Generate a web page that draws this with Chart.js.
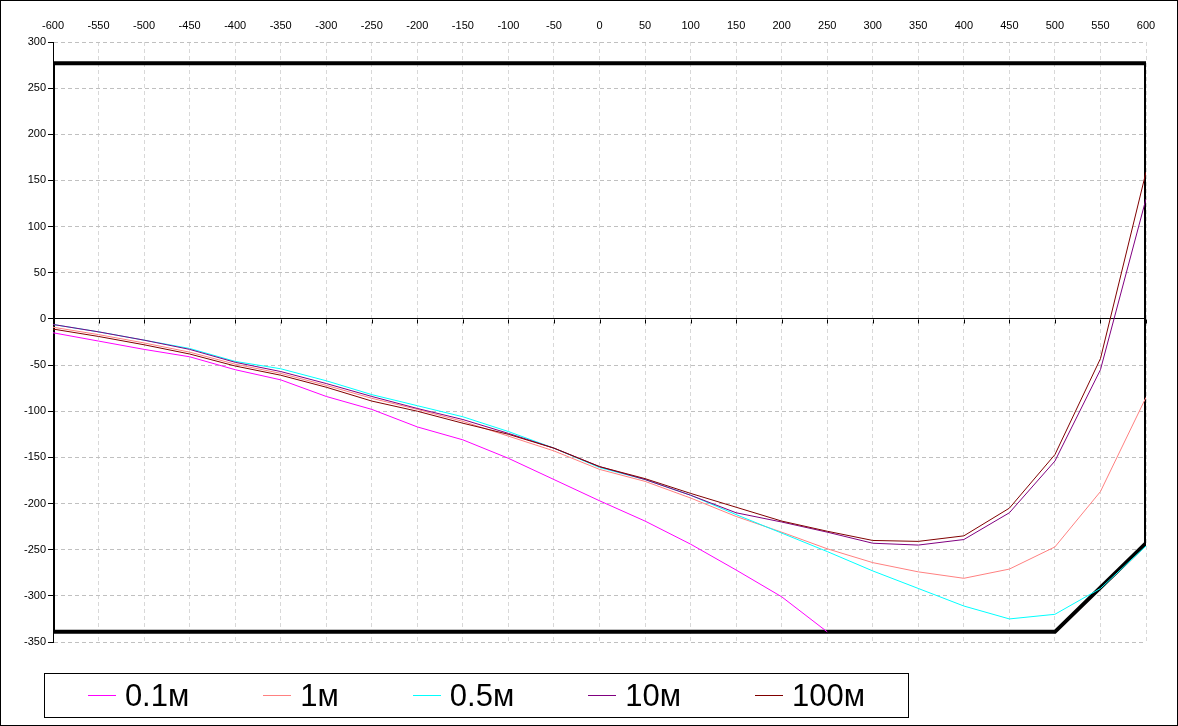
<!DOCTYPE html>
<html>
<head>
<meta charset="utf-8">
<script src="https://cdn.jsdelivr.net/npm/chart.js@4/dist/chart.umd.min.js"></script>
<style>
body { margin: 0; background: #fff; }
#wrap { position: relative; width: 1178px; height: 726px; overflow: hidden; }
#chart { position: absolute; left: 0; top: 0; }
#frame { position: absolute; left: 0; top: 0; width: 1178px; height: 726px; box-sizing: border-box; border: 1px solid #000; pointer-events: none; }
#legend { position: absolute; left: 44px; top: 673px; width: 865px; height: 45px; box-sizing: border-box; border: 1px solid #000;
  display: flex; justify-content: center; align-items: center; gap: 74px; font-family: "Liberation Sans", Arial, sans-serif; font-size: 31px; color: #000; }
.item { display: flex; align-items: center; white-space: nowrap; }
.swatch { display: inline-block; width: 28px; height: 1px; margin-right: 9px; }
</style>
</head>
<body>
<div id="wrap">
  <canvas id="chart" width="1178" height="726"></canvas>
  <div id="legend"></div>
  <div id="frame"></div>
</div>
<script>
// x positions, every 50
var xValues = [-600,-550,-500,-450,-400,-350,-300,-250,-200,-150,-100,-50,0,50,100,150,200,250,300,350,400,450,500,550,600];

var seriesLabels = ['0.1м', '1м', '0.5м', '10м', '100м'];
var seriesColors = ['#FF00FF', '#FF8080', '#00FFFF', '#800080', '#800000'];

var s01  = [-15,-24,-33,-41,-55,-66,-84,-98,-117,-131,-151,-174,-197,-219,-244,-272,-301,-339,null,null,null,null,null,null,null];
var s1   = [-9,-17,-26,-36,-49,-59,-72,-86,-98,-111,-127,-143,-163,-176,-194,-214,-231,-249,-264,-274,-281,-271,-247,-187,-85];
var s05  = [-6,-14,-23,-32,-46,-54,-67,-82,-94,-106,-122,-140,-161,-174,-191,-212,-232,-252,-273,-292,-311,-325,-320,-292,-246];
var s10  = [-6,-14,-23,-33,-47,-57,-70,-84,-97,-109,-124,-140,-160,-174,-191,-210,-220,-231,-243,-245,-239,-210,-154,-55,130];
var s100 = [-11,-19,-28,-38,-51,-61,-74,-89,-100,-113,-125,-140,-160,-173,-189,-204,-219,-230,-240,-241,-235,-205,-147,-43,159];

// thick black boundary outline
var boundX = [-600, 600, 600, 500, -600, -600];
var boundY = [277, 277, -243, -339, -339, 277];

var xTicks = { min: -600, max: 600, step: 50 };
var yTicks = { min: -350, max: 300, step: 50 };

function toPoints(xs, ys) {
    var pts = [];
    for (var i = 0; i < xs.length; i++) {
        pts.push({ x: xs[i], y: ys[i] });
    }
    return pts;
}

var allSeries = [s01, s1, s05, s10, s100];
var datasets = [];
for (var i = 0; i < allSeries.length; i++) {
    datasets.push({
        label: seriesLabels[i],
        data: toPoints(xValues, allSeries[i]),
        borderColor: seriesColors[i],
        backgroundColor: seriesColors[i],
        borderWidth: 1,
        pointRadius: 0,
        tension: 0,
        fill: false,
        spanGaps: false,
        order: 10 - i
    });
}
datasets.push({
    label: 'bound',
    data: toPoints(boundX, boundY),
    borderColor: '#000',
    borderWidth: 4,
    pointRadius: 0,
    borderJoinStyle: 'miter',
    fill: false,
    order: 20
});

// small tick marks hanging from the zero line
var zeroTicks = {
    id: 'zeroTicks',
    beforeDatasetsDraw: function(chart) {
        var xs = chart.scales.x, ys = chart.scales.y, ctx = chart.ctx;
        var y0 = Math.round(ys.getPixelForValue(0)) + 0.5;
        ctx.save();
        ctx.strokeStyle = '#000';
        ctx.lineWidth = 1;
        ctx.beginPath();
        for (var v = xTicks.min; v <= xTicks.max; v += xTicks.step) {
            var px = Math.round(xs.getPixelForValue(v)) + 0.5;
            ctx.moveTo(px, y0);
            ctx.lineTo(px, y0 + 4);
        }
        ctx.stroke();
        ctx.restore();
    }
};

var tickFont = { family: '"Liberation Sans", Arial, sans-serif', size: 11 };

var chart = new Chart(document.getElementById('chart'), {
    type: 'line',
    data: { datasets: datasets },
    options: {
        responsive: false,
        animation: false,
        layout: { padding: { left: 0, top: 0, right: 32, bottom: 84 } },
        plugins: { legend: { display: false }, tooltip: { enabled: false } },
        scales: {
            x: {
                type: 'linear',
                position: 'top',
                min: xTicks.min, max: xTicks.max,
                ticks: { stepSize: xTicks.step, color: '#000', font: tickFont, padding: 9, maxRotation: 0, autoSkip: false },
                grid: { color: '#d8d8d8', drawTicks: false, lineWidth: 1 },
                border: { display: false, dash: [4, 3] },
                afterFit: function(scale) { scale.height = 42; }
            },
            y: {
                type: 'linear',
                min: yTicks.min, max: yTicks.max,
                ticks: { stepSize: yTicks.step, color: '#000', font: tickFont, padding: 2 },
                grid: {
                    color: function(c) { return c.tick && c.tick.value === 0 ? '#000' : '#c0c0c0'; },
                    tickColor: '#000', tickLength: 5, tickBorderDash: [], lineWidth: 1
                },
                border: {
                    display: true, color: '#000', width: 1,
                    dash: function(c) { return c.tick && c.tick.value !== 0 ? [4, 3] : []; }
                },
                afterFit: function(scale) { scale.width = 53; }
            }
        }
    },
    plugins: [zeroTicks]
});

// legend as html
var legend = document.getElementById('legend');
for (var j = 0; j < seriesLabels.length; j++) {
    var item = document.createElement('span');
    item.className = 'item';
    var sw = document.createElement('span');
    sw.className = 'swatch';
    sw.style.backgroundColor = seriesColors[j];
    item.appendChild(sw);
    item.appendChild(document.createTextNode(seriesLabels[j]));
    legend.appendChild(item);
}
</script>
</body>
</html>
